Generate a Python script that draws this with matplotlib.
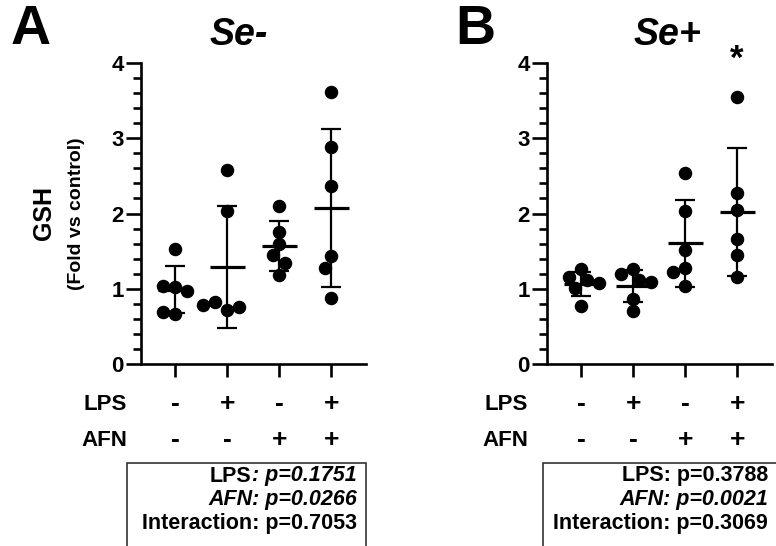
import numpy as np
import matplotlib.pyplot as plt
from matplotlib.patches import Rectangle
from matplotlib.ticker import MultipleLocator
from matplotlib.transforms import blended_transform_factory

plt.rcParams['font.family'] = ['Liberation Sans', 'DejaVu Sans']
plt.rcParams['font.weight'] = 'bold'

W, H = 776, 546

groups = [1, 2, 3, 4]
lps_signs = ['-', '+', '-', '+']
afn_signs = ['-', '-', '+', '+']

# GSH fold vs control, one list per group (n = 6)
se_minus = [
    [1.53, 1.02, 1.03, 0.97, 0.67, 0.69],
    [2.58, 2.03, 0.72, 0.82, 0.76, 0.79],
    [2.10, 1.75, 1.59, 1.45, 1.34, 1.18],
    [3.61, 2.88, 2.36, 1.43, 1.28, 0.88],
]
se_plus = [
    [1.26, 1.15, 1.11, 1.08, 1.01, 0.77],
    [1.26, 1.19, 1.11, 1.09, 0.87, 0.71],
    [2.54, 2.03, 1.52, 1.28, 1.22, 1.03],
    [3.55, 2.27, 2.04, 1.66, 1.45, 1.16],
]

# two-way ANOVA results: (text, font style) pieces per line
stats_minus = [
    [("LPS", "normal"), (": p=0.1751", "italic")],
    [("AFN: p=0.0266", "italic")],
    [("Interaction: p=0.7053", "normal")],
]
stats_plus = [
    [("LPS: p=0.3788", "normal")],
    [("AFN: p=0.0021", "italic")],
    [("Interaction: p=0.3069", "normal")],
]
signif_plus = ['', '', '', '*']


def swarm_x(ax, x0, values, dot_px):
    # spread overlapping dots sideways, working in display pixels
    placed = []
    xs = []
    steps = [0]
    for k in range(1, 12):
        steps += [-k * dot_px / 2, k * dot_px / 2]
    for v in values:
        px, py = ax.transData.transform((x0, v))
        for s in steps:
            ok = all(np.hypot(px + s - qx, py - qy) >= dot_px * 0.95
                     for qx, qy in placed)
            if ok:
                break
        placed.append((px + s, py))
        xs.append(ax.transData.inverted().transform((px + s, py))[0])
    return xs


def right_text(fig, x_px, y_px, parts, size):
    renderer = fig.canvas.get_renderer()
    x = x_px
    for text, style in reversed(parts):
        t = fig.text(x / W, 1 - y_px / H, text, ha='right', va='center',
                     fontsize=size, fontstyle=style, fontweight='bold')
        x -= t.get_window_extent(renderer).width + 1


def draw_panel(fig, left_px, right_px, data, letter, letter_x, title,
               title_x, row_label_x, stats, box_left, box_right,
               stats_right, signif=None):
    ax = fig.add_axes([left_px / W, 1 - 364 / H,
                       (right_px - left_px) / W, (364 - 63) / H])
    ax.set_xlim(0.34, 4.67)
    ax.set_ylim(0, 4)
    for side in ['top', 'right']:
        ax.spines[side].set_visible(False)
    for side in ['left', 'bottom']:
        ax.spines[side].set_linewidth(1.9)

    ax.yaxis.set_major_locator(MultipleLocator(1))
    ax.yaxis.set_minor_locator(MultipleLocator(0.2))
    ax.set_xticks(groups)
    ax.set_xticklabels([])
    ax.tick_params(axis='y', which='major', length=11, width=1.9,
                   labelsize=16, pad=1.5)
    ax.tick_params(axis='y', which='minor', length=5.5, width=1.9)
    ax.tick_params(axis='x', length=9, width=1.9)

    fig.canvas.draw()
    for g, vals in zip(groups, data):
        vals = np.array(vals)
        m = vals.mean()
        sd = vals.std(ddof=1)
        ax.hlines(m, g - 0.34, g + 0.34, color='black', lw=2.3, zorder=2)
        ax.vlines(g, m - sd, m + sd, color='black', lw=1.6, zorder=2)
        ax.hlines([m - sd, m + sd], g - 0.19, g + 0.19, color='black',
                  lw=1.6, zorder=2)
        xs = swarm_x(ax, g, vals, 12)
        ax.plot(xs, vals, 'o', color='black', markersize=8.7, zorder=3,
                clip_on=False)

    if signif:
        for g, s in zip(groups, signif):
            if s:
                ax.text(g, 4.05, s, ha='center', va='center', fontsize=25,
                        fontweight='bold', clip_on=False)

    fig.text(letter_x / W, 1 - 30 / H, letter, ha='center', va='center',
             fontsize=40, fontweight='bold')
    fig.text(title_x / W, 1 - 35 / H, title, ha='center', va='center',
             fontsize=27, fontweight='bold', fontstyle='italic')

    # treatment rows under the x axis
    trans = blended_transform_factory(ax.transData, fig.transFigure)
    for label, signs, y in [("LPS", lps_signs, 404), ("AFN", afn_signs, 440)]:
        fig.text(row_label_x / W, 1 - y / H, label, ha='right', va='center',
                 fontsize=16, fontweight='bold')
        for g, s in zip(groups, signs):
            ax.text(g, 1 - y / H, s, transform=trans, ha='center',
                    va='center', fontsize=19, fontweight='bold')

    box = Rectangle((box_left / W, -0.02), (box_right - box_left) / W,
                    (546 - 463) / H + 0.02, transform=fig.transFigure,
                    fill=False, edgecolor='#333333', lw=1.2)
    fig.patches.append(box)
    for parts, y in zip(stats, [476, 500, 523]):
        right_text(fig, stats_right, y, parts, 15.5)
    return ax


fig = plt.figure(figsize=(W / 100, H / 100), dpi=100)

ax_a = draw_panel(fig, 141, 366, se_minus, "A", 31, "Se-", 239, 127,
                  stats_minus, 127, 366, 357)
ax_a.text(-0.43, 0.5, "GSH", transform=ax_a.transAxes, rotation=90,
          ha='center', va='center', fontsize=18, fontweight='bold')
ax_a.text(-0.285, 0.5, "(Fold vs control)", transform=ax_a.transAxes,
          rotation=90, ha='center', va='center', fontsize=14,
          fontweight='bold')

draw_panel(fig, 547, 772, se_plus, "B", 475, "Se+", 667, 528,
           stats_plus, 543, 780, 768, signif=signif_plus)

fig.savefig("out.png", dpi=100)
